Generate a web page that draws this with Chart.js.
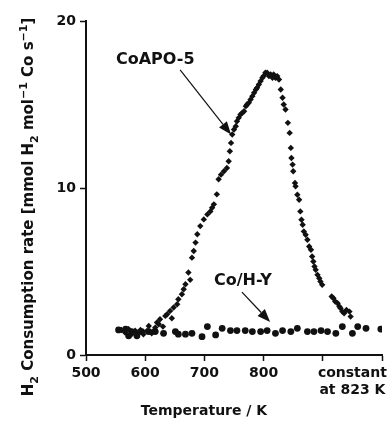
<!DOCTYPE html>
<html>
<head>
<meta charset="utf-8">
<script src="https://cdn.jsdelivr.net/npm/chart.js@4"></script>
<style>
  html, body { margin: 0; padding: 0; background: #fff; }
  #wrap { width: 387px; height: 421px; position: relative; }
</style>
</head>
<body>
<div id="wrap"><canvas id="h2Chart"></canvas></div>
<script>
// CoAPO-5 (diamonds) — temperature / K and rate
const coapoTemp = [560, 566, 572, 577, 583, 586, 592, 597, 603, 606, 611, 614, 617, 620, 623, 625, 630, 634, 637, 642,
  645, 648, 654, 656, 662, 665, 668, 673, 676, 679, 682, 685, 688, 693, 699, 705, 710, 713, 716, 721,
  724, 728, 733, 738, 741, 743, 745, 747, 750, 753, 755, 758, 761, 764, 767, 770, 772, 775, 778, 781,
  784, 787, 789, 792, 795, 798, 800, 803, 806, 809, 812, 815, 817, 820, 823, 826, 829, 832, 834, 837,
  841, 844, 846, 847, 849, 850, 853, 854, 857, 860, 862, 864, 866, 868, 871, 874, 877, 880, 882, 884,
  886, 888, 891, 894, 896, 899, 915, 918, 921, 925, 928, 930, 933, 936, 940, 945, 947];
const coapoRate = [1.5, 1.34, 1.55, 1.24, 1.45, 1.34, 1.5, 1.24, 1.44, 1.74, 1.3, 1.44, 1.64, 1.95, 1.84, 2.14, 1.7, 2.34, 2.44, 2.64,
  2.2, 2.84, 3.04, 3.34, 3.64, 3.94, 4.24, 4.94, 4.5, 5.83, 6.23, 6.73, 7.23, 7.72, 8.12, 8.42, 8.6, 8.82, 9.02, 9.62,
  10.52, 10.8, 11.0, 11.2, 11.6, 12.2, 12.7, 13.2, 13.5, 13.7, 14.0, 14.2, 14.4, 14.5, 14.6, 14.9, 15.0, 15.1, 15.3, 15.5,
  15.7, 15.9, 16.0, 16.2, 16.4, 16.6, 16.7, 16.9, 16.9, 16.7, 16.8, 16.6, 16.8, 16.6, 16.7, 16.5, 15.9, 15.4, 15.0, 14.7,
  13.9, 13.3, 12.4, 11.8, 11.4, 11.0, 10.3, 10.1, 9.6, 9.3, 8.6, 8.1, 7.8, 7.4, 7.2, 6.9, 6.5, 6.3, 5.9, 5.6,
  5.3, 5.1, 4.8, 4.6, 4.4, 4.2, 3.5, 3.4, 3.2, 3.1, 2.9, 2.8, 2.6, 2.5, 2.7, 2.6, 2.3];

// Co/H-Y (circles)
const cohyTemp = [555, 567, 572, 577, 586, 594, 606, 617, 631, 651, 656, 668, 679, 696, 705, 719, 730, 744, 755, 769,
  781, 795, 806, 820, 832, 846, 857, 874, 885, 897, 908, 922, 933, 950, 959, 973, 998];
const cohyRate = [1.5, 1.55, 1.15, 1.4, 1.15, 1.4, 1.4, 1.4, 1.3, 1.4, 1.25, 1.25, 1.3, 1.1, 1.7, 1.2, 1.6, 1.46, 1.46, 1.46,
  1.4, 1.4, 1.46, 1.3, 1.46, 1.4, 1.6, 1.4, 1.4, 1.46, 1.4, 1.3, 1.7, 1.3, 1.7, 1.6, 1.55];

const xTicks = [500, 600, 700, 800, 900, 950, 1000];
const xTickLabels = ['500', '600', '700', '800', '', ['constant', 'at 823 K'], ''];
const yTicks = [0, 10, 20];

const FONT = "'DejaVu Sans', sans-serif";

function toPoints(xs, ys) {
    return xs.map((x, i) => ({ x: x, y: ys[i] }));
}

// labels + arrows, positioned in data units
const notes = [
    { text: 'CoAPO-5', at: [617, 17.66], from: [659, 17.07], to: [745, 13.2] },
    { text: 'Co/H-Y', at: [765, 4.43], from: [763.5, 3.77], to: [811, 1.98] }
];

function drawArrow(ctx, x1, y1, x2, y2) {
    const ang = Math.atan2(y2 - y1, x2 - x1);
    const len = 13, half = 5;
    const bx = x2 - len * Math.cos(ang), by = y2 - len * Math.sin(ang);
    ctx.beginPath();
    ctx.moveTo(x1, y1);
    ctx.lineTo(bx, by);
    ctx.stroke();
    ctx.beginPath();
    ctx.moveTo(x2, y2);
    ctx.lineTo(bx + half * Math.sin(ang), by - half * Math.cos(ang));
    ctx.lineTo(bx - half * Math.sin(ang), by + half * Math.cos(ang));
    ctx.closePath();
    ctx.fill();
}

// runs of text with sub/superscripts
function drawRich(ctx, parts, size, cx, cy) {
    const small = Math.round(size * 0.7);
    let total = 0;
    parts.forEach(p => {
        ctx.font = 'bold ' + (p[1] ? small : size) + 'px ' + FONT;
        total += ctx.measureText(p[0]).width;
    });
    let x = cx - total / 2;
    parts.forEach(p => {
        ctx.font = 'bold ' + (p[1] ? small : size) + 'px ' + FONT;
        let dy = 0;
        if (p[1] === 'sub') dy = size * 0.3;
        if (p[1] === 'sup') dy = -size * 0.4;
        ctx.fillText(p[0], x, cy + dy);
        x += ctx.measureText(p[0]).width;
    });
}

const extras = {
    id: 'extras',
    afterDraw(chart) {
        const ctx = chart.ctx;
        const xs = chart.scales.x, ys = chart.scales.y;
        ctx.save();
        ctx.fillStyle = '#111';
        ctx.strokeStyle = '#111';
        ctx.lineWidth = 1.2;
        ctx.textAlign = 'center';
        ctx.textBaseline = 'middle';
        notes.forEach(n => {
            ctx.font = 'bold 16px ' + FONT;
            ctx.fillText(n.text, xs.getPixelForValue(n.at[0]), ys.getPixelForValue(n.at[1]));
            drawArrow(ctx,
                xs.getPixelForValue(n.from[0]), ys.getPixelForValue(n.from[1]),
                xs.getPixelForValue(n.to[0]), ys.getPixelForValue(n.to[1]));
        });

        // x title
        ctx.textBaseline = 'alphabetic';
        ctx.font = 'bold 14px ' + FONT;
        ctx.textAlign = 'center';
        ctx.fillText('Temperature / K', 204, 415);

        // y title
        ctx.translate(28, 207);
        ctx.rotate(-Math.PI / 2);
        ctx.textAlign = 'left';
        drawRich(ctx, [
            ['H'], ['2', 'sub'], [' Consumption rate [mmol H'], ['2', 'sub'], [' mol'], ['\u22121', 'sup'],
            [' Co s'], ['\u22121', 'sup'], [']']
        ], 15, 0, 5);
        ctx.restore();
    }
};

new Chart(document.getElementById('h2Chart'), {
    type: 'scatter',
    data: {
        datasets: [
            {
                label: 'CoAPO-5',
                data: toPoints(coapoTemp, coapoRate),
                pointStyle: 'rectRot',
                pointRadius: 3.2,
                backgroundColor: '#111',
                borderColor: '#111',
                borderWidth: 0
            },
            {
                label: 'Co/H-Y',
                data: toPoints(cohyTemp, cohyRate),
                pointStyle: 'circle',
                pointRadius: 3.4,
                backgroundColor: '#111',
                borderColor: '#111',
                borderWidth: 0
            }
        ]
    },
    options: {
        responsive: true,
        maintainAspectRatio: false,
        animation: false,
        layout: { padding: { top: 21, right: 5, left: 0, bottom: 0 } },
        plugins: { legend: { display: false }, tooltip: { enabled: false } },
        scales: {
            x: {
                type: 'linear',
                min: 500,
                max: 1000,
                afterBuildTicks: s => { s.ticks = xTicks.map(v => ({ value: v })); },
                afterFit: s => { s.height = 66; },
                border: { display: true, color: '#111', width: 2 },
                grid: {
                    drawOnChartArea: false,
                    tickLength: 6,
                    tickWidth: 1.5,
                    tickColor: c => (c.tick && c.tick.value === 950) ? 'rgba(0,0,0,0)' : '#111'
                },
                ticks: {
                    autoSkip: false,
                    maxRotation: 0,
                    padding: 4,
                    color: '#111',
                    font: { family: FONT, size: 14, weight: 'bold' },
                    callback: (v, i) => xTickLabels[xTicks.indexOf(v)]
                }
            },
            y: {
                min: 0,
                max: 20,
                afterBuildTicks: s => { s.ticks = yTicks.map(v => ({ value: v })); },
                afterFit: s => { s.width = 86; },
                border: { display: true, color: '#111', width: 2 },
                grid: { drawOnChartArea: false, tickLength: 6, tickWidth: 1.5, tickColor: '#111' },
                ticks: {
                    padding: 4,
                    color: '#111',
                    font: { family: FONT, size: 14, weight: 'bold' }
                }
            }
        }
    },
    plugins: [extras]
});
</script>
</body>
</html>
